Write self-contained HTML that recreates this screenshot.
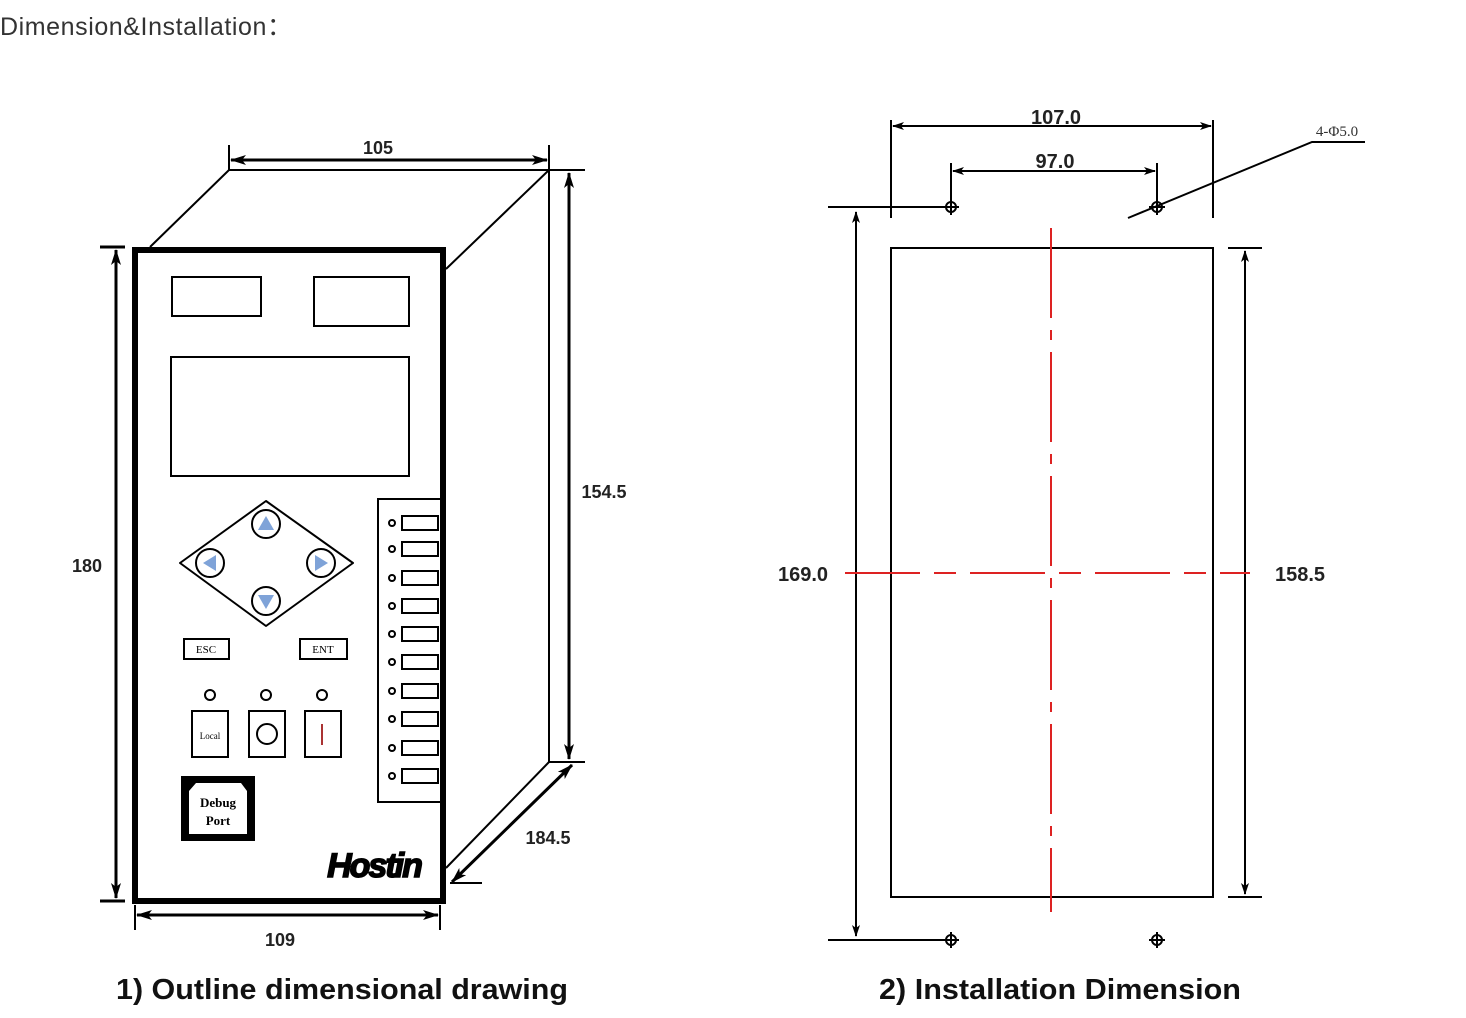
<!DOCTYPE html>
<html><head><meta charset="utf-8"><style>
html,body{margin:0;padding:0;background:#fff;}
svg{display:block;}
</style></head><body>
<svg width="1466" height="1018" viewBox="0 0 1466 1018" xmlns="http://www.w3.org/2000/svg" font-family="Liberation Sans, sans-serif">
<defs>
<marker id="a" viewBox="0 0 12 8" refX="11" refY="4" markerWidth="12" markerHeight="8" markerUnits="userSpaceOnUse" orient="auto-start-reverse"><path d="M0,0 L12,4 L0,8 L3,4 z" fill="#000"/></marker>
<marker id="b" viewBox="0 0 16 10" refX="15" refY="5" markerWidth="16" markerHeight="10" markerUnits="userSpaceOnUse" orient="auto-start-reverse"><path d="M0,0 L16,5 L0,10 L4,5 z" fill="#000"/></marker>
</defs>
<text x="0" y="35" font-size="25" fill="#333" textLength="292" lengthAdjust="spacing">Dimension&amp;Installation：</text>

<!-- LEFT DRAWING -->
<g stroke="#000" fill="none">
<path d="M150,247 L229,170 L549,170 L446,269" stroke-width="2"/>
<line x1="549" y1="170" x2="549" y2="762" stroke-width="2"/>
<line x1="549" y1="762" x2="446" y2="868" stroke-width="2"/>
<rect x="135" y="250" width="308" height="651" stroke-width="6"/>
<line x1="229" y1="145" x2="229" y2="170" stroke-width="2"/>
<line x1="549" y1="145" x2="549" y2="170" stroke-width="2"/>
<line x1="231" y1="160" x2="547" y2="160" stroke-width="3" marker-start="url(#b)" marker-end="url(#b)"/>
<line x1="549" y1="170" x2="585" y2="170" stroke-width="2"/>
<line x1="549" y1="762" x2="585" y2="762" stroke-width="2"/>
<line x1="569" y1="173" x2="569" y2="759" stroke-width="3" marker-start="url(#b)" marker-end="url(#b)"/>
<line x1="100" y1="247" x2="125" y2="247" stroke-width="3"/>
<line x1="100" y1="901" x2="125" y2="901" stroke-width="3"/>
<line x1="116" y1="250" x2="116" y2="898" stroke-width="3" marker-start="url(#b)" marker-end="url(#b)"/>
<line x1="135" y1="905" x2="135" y2="930" stroke-width="2"/>
<line x1="440" y1="905" x2="440" y2="930" stroke-width="2"/>
<line x1="137" y1="915" x2="438" y2="915" stroke-width="3" marker-start="url(#b)" marker-end="url(#b)"/>
<line x1="450" y1="883" x2="482" y2="883" stroke-width="2"/>
<line x1="572" y1="765" x2="452" y2="882" stroke-width="3" marker-start="url(#b)" marker-end="url(#b)"/>

<rect x="172" y="277" width="89" height="39" stroke-width="2"/>
<rect x="314" y="277" width="95" height="49" stroke-width="2"/>
<rect x="171" y="357" width="238" height="119" stroke-width="2"/>
<path d="M266,501 L353,563 L266,626 L180,563 Z" stroke-width="2" stroke-linejoin="round"/>
<g stroke-width="2" fill="#fff">
<circle cx="266" cy="524" r="14"/><circle cx="210" cy="563" r="14"/><circle cx="321" cy="563" r="14"/><circle cx="266" cy="601" r="14"/>
</g>
<g fill="#7fa3d8" stroke="none">
<path d="M258,530 L274,530 L266,516 Z"/>
<path d="M258,595 L274,595 L266,609 Z"/>
<path d="M216,555 L216,571 L203,563 Z"/>
<path d="M315,555 L315,571 L328,563 Z"/>
</g>
<rect x="184" y="639" width="45" height="20" stroke-width="2"/>
<rect x="300" y="639" width="47" height="20" stroke-width="2"/>
<circle cx="210" cy="695" r="5" stroke-width="2"/><circle cx="266" cy="695" r="5" stroke-width="2"/><circle cx="322" cy="695" r="5" stroke-width="2"/>
<rect x="192" y="711" width="36" height="46" stroke-width="2"/>
<rect x="249" y="711" width="36" height="46" stroke-width="2"/>
<rect x="305" y="711" width="36" height="46" stroke-width="2"/>
<circle cx="267" cy="734" r="10" stroke-width="2"/>
<line x1="322" y1="724" x2="322" y2="745" stroke="#a33" stroke-width="2"/>
<rect x="181" y="776" width="74" height="65" fill="#000" stroke="none"/>
<path d="M196,783 L241,783 L247,791 L247,834 L189,834 L189,791 Z" fill="#fff" stroke="none"/>
<rect x="378" y="499" width="65" height="303" stroke-width="2"/>
<g stroke-width="2">
<circle cx="392" cy="523" r="3"/><rect x="402" y="516" width="36" height="14"/>
<circle cx="392" cy="549" r="3"/><rect x="402" y="542" width="36" height="14"/>
<circle cx="392" cy="578" r="3"/><rect x="402" y="571" width="36" height="14"/>
<circle cx="392" cy="606" r="3"/><rect x="402" y="599" width="36" height="14"/>
<circle cx="392" cy="634" r="3"/><rect x="402" y="627" width="36" height="14"/>
<circle cx="392" cy="662" r="3"/><rect x="402" y="655" width="36" height="14"/>
<circle cx="392" cy="691" r="3"/><rect x="402" y="684" width="36" height="14"/>
<circle cx="392" cy="719" r="3"/><rect x="402" y="712" width="36" height="14"/>
<circle cx="392" cy="748" r="3"/><rect x="402" y="741" width="36" height="14"/>
<circle cx="392" cy="776" r="3"/><rect x="402" y="769" width="36" height="14"/>
</g>
</g>
<g font-family="Liberation Serif, serif" font-size="11" text-anchor="middle" fill="#000">
<text x="206" y="653">ESC</text><text x="323" y="653">ENT</text>
<text x="210" y="739" font-size="9">Local</text>
<text x="218" y="807" font-size="13" font-weight="bold">Debug</text>
<text x="218" y="825" font-size="13" font-weight="bold">Port</text>
</g>
<text x="374" y="877" font-size="34" font-weight="bold" font-style="italic" text-anchor="middle" fill="#000" stroke="#000" stroke-width="1.5" letter-spacing="-2">Hostin</text>
<g font-size="18" font-weight="bold" fill="#222" text-anchor="middle">
<text x="378" y="154">105</text>
<text x="604" y="498">154.5</text>
<text x="87" y="572">180</text>
<text x="280" y="946">109</text>
<text x="548" y="844">184.5</text>
</g>

<!-- RIGHT DRAWING -->
<g stroke="#000" fill="none">
<rect x="891" y="248" width="322" height="649" stroke-width="2"/>
<line x1="891" y1="120" x2="891" y2="218" stroke-width="2"/>
<line x1="1213" y1="120" x2="1213" y2="218" stroke-width="2"/>
<line x1="893" y1="126" x2="1211" y2="126" stroke-width="2" marker-start="url(#a)" marker-end="url(#a)"/>
<line x1="951" y1="163" x2="951" y2="207" stroke-width="2"/>
<line x1="1157" y1="163" x2="1157" y2="207" stroke-width="2"/>
<line x1="953" y1="171" x2="1155" y2="171" stroke-width="2" marker-start="url(#a)" marker-end="url(#a)"/>
<line x1="828" y1="207" x2="951" y2="207" stroke-width="2"/>
<line x1="828" y1="940" x2="951" y2="940" stroke-width="2"/>
<line x1="856" y1="212" x2="856" y2="936" stroke-width="2" marker-start="url(#a)" marker-end="url(#a)"/>
<line x1="1228" y1="248" x2="1262" y2="248" stroke-width="2"/>
<line x1="1228" y1="897" x2="1262" y2="897" stroke-width="2"/>
<line x1="1245" y1="251" x2="1245" y2="894" stroke-width="2" marker-start="url(#a)" marker-end="url(#a)"/>
<path d="M1128,218 L1312,142 L1365,142" stroke-width="2"/>
<g stroke-width="2">
<circle cx="951" cy="207" r="5"/><line x1="943" y1="207" x2="959" y2="207"/><line x1="951" y1="199" x2="951" y2="215"/>
<circle cx="1157" cy="207" r="5"/><line x1="1149" y1="207" x2="1165" y2="207"/><line x1="1157" y1="199" x2="1157" y2="215"/>
<circle cx="951" cy="940" r="5"/><line x1="943" y1="940" x2="959" y2="940"/><line x1="951" y1="932" x2="951" y2="948"/>
<circle cx="1157" cy="940" r="5"/><line x1="1149" y1="940" x2="1165" y2="940"/><line x1="1157" y1="932" x2="1157" y2="948"/>
</g>
<line x1="1051" y1="228" x2="1051" y2="912" stroke="#d22" stroke-width="2" stroke-dasharray="90,12,10,12"/>
<line x1="845" y1="573" x2="1250" y2="573" stroke="#d22" stroke-width="2" stroke-dasharray="75,14,22,14"/>
</g>
<g font-size="20" font-weight="bold" fill="#222" text-anchor="middle">
<text x="1056" y="124">107.0</text>
<text x="1055" y="168">97.0</text>
<text x="803" y="581">169.0</text>
<text x="1300" y="581">158.5</text>
</g>
<text x="1337" y="136" font-family="Liberation Serif, serif" font-size="15" fill="#333" text-anchor="middle">4-Φ5.0</text>

<g font-size="29" font-weight="bold" fill="#111" text-anchor="middle">
<text x="342" y="999" textLength="452" lengthAdjust="spacingAndGlyphs">1) Outline dimensional drawing</text>
<text x="1060" y="999" textLength="362" lengthAdjust="spacingAndGlyphs">2) Installation Dimension</text>
</g>
</svg>
</body></html>
